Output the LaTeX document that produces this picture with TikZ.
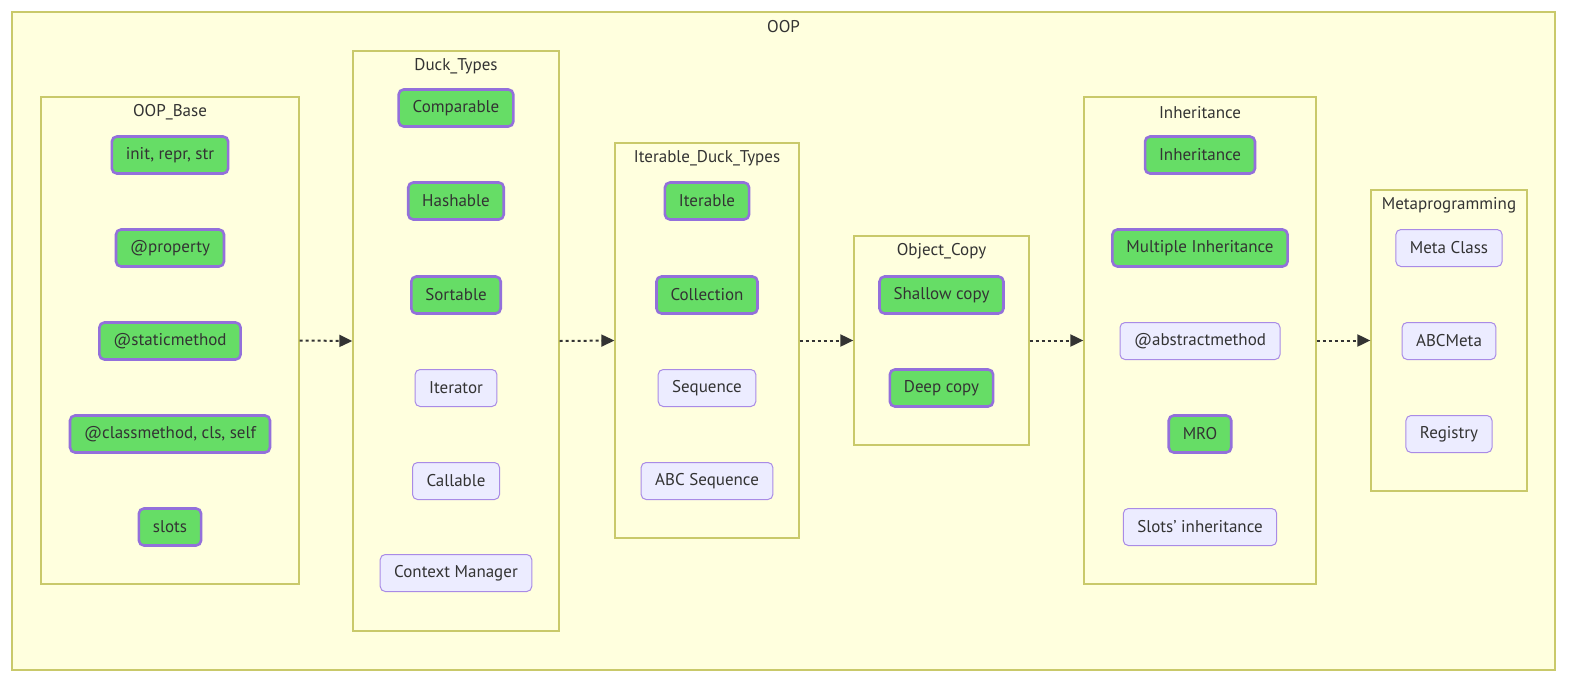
\documentclass[tikz,border=0pt]{standalone}
\usepackage{fontspec}
\setsansfont{PT Sans}
\usetikzlibrary{arrows.meta}

\definecolor{clfill}{HTML}{FFFFDE}
\definecolor{clline}{HTML}{C9C96A}
\definecolor{itfill}{HTML}{ECECFF}
\definecolor{itline}{HTML}{A98BE6}
\definecolor{gofill}{HTML}{66DD66}
\definecolor{goline}{HTML}{9370DB}
\definecolor{txt}{HTML}{333333}

\begin{document}
\begin{tikzpicture}[
        x=1pt, y=-1pt,
        font=\sffamily\fontsize{17}{20}\selectfont,
        text=txt,
        cluster/.style={
            draw=clline,
            fill=clfill,
            line width=1.3pt
        },
        cltitle/.style={inner sep=0pt},
        item/.style={
            draw=itline,
            fill=itfill,
            line width=1pt,
            rounded corners=5pt,
            minimum height=37pt,
            inner xsep=14pt
        },
        done/.style={
            item,
            draw=goline,
            fill=gofill,
            line width=2.6pt
        },
        link/.style={
            draw=txt,
            line width=2pt,
            dash pattern=on 3pt off 3pt,
            -{Triangle[length=13pt,width=12pt,sep=0pt]}
        }
    ]

    \useasboundingbox (0,0) rectangle (1572,683);

    % Moldura externa
    \node[cluster, minimum width=1543, minimum height=658] (oop) at (783.5,341) {};
    \node[cltitle] (ooptitle) at ([yshift=-15pt]oop.north) {OOP};

    % Grupos
    \node[cluster, minimum width=258, minimum height=487] (base) at (170,340.5) {};
    \node[cluster, minimum width=206, minimum height=580] (duck) at (456,341) {};
    \node[cluster, minimum width=184, minimum height=395] (iter) at (707,340.5) {};
    \node[cluster, minimum width=175, minimum height=209] (copy) at (941.5,340.5) {};
    \node[cluster, minimum width=232, minimum height=487] (inher) at (1200,340.5) {};
    \node[cluster, minimum width=156, minimum height=301] (meta) at (1449,340.5) {};

    \node[cltitle] (basetitle) at ([yshift=-16pt]base.north) {OOP\_Base};
    \node[cltitle] (ducktitle) at ([yshift=-16pt]duck.north) {Duck\_Types};
    \node[cltitle] (itertitle) at ([yshift=-16pt]iter.north) {Iterable\_Duck\_Types};
    \node[cltitle] (copytitle) at ([yshift=-16pt]copy.north) {Object\_Copy};
    \node[cltitle] (inhertitle) at ([yshift=-16pt]inher.north) {Inheritance};
    \node[cltitle] (metatitle) at ([yshift=-16pt]meta.north) {Metaprogramming};

    % OOP_Base
    \node[done] (init) at (170,155) {init, repr, str};
    \node[done] (prop) at (170,248) {@property};
    \node[done] (static) at (170,341) {@staticmethod};
    \node[done] (classm) at (170,434) {@classmethod, cls, self};
    \node[done] (slots) at (170,527) {slots};

    % Duck_Types
    \node[done] (compar) at (456,108) {Comparable};
    \node[done] (hashab) at (456,201) {Hashable};
    \node[done] (sortab) at (456,295) {Sortable};
    \node[item] (iterat) at (456,388) {Iterator};
    \node[item] (callab) at (456,481) {Callable};
    \node[item] (ctxman) at (456,573) {Context Manager};

    % Iterable_Duck_Types
    \node[done] (iterab) at (707,201) {Iterable};
    \node[done] (collec) at (707,295) {Collection};
    \node[item] (sequen) at (707,388) {Sequence};
    \node[item] (abcseq) at (707,481) {ABC Sequence};

    % Object_Copy
    \node[done] (shallow) at (941.5,295) {Shallow copy};
    \node[done] (deep) at (941.5,388) {Deep copy};

    % Inheritance
    \node[done] (inh) at (1200,155) {Inheritance};
    \node[done] (multi) at (1200,248) {Multiple Inheritance};
    \node[item] (abstr) at (1200,341) {@abstractmethod};
    \node[done] (mro) at (1200,434) {MRO};
    \node[item] (slotinh) at (1200,527) {Slots' inheritance};

    % Metaprogramming
    \node[item] (metacl) at (1449,248) {Meta Class};
    \node[item] (abcmeta) at (1449,341) {ABCMeta};
    \node[item] (regis) at (1449,434) {Registry};

    % Ligações
    \draw[link] (base.east) -- (duck.west);
    \draw[link] (duck.east) -- (iter.west);
    \draw[link] (iter.east) -- (copy.west);
    \draw[link] (copy.east) -- (inher.west);
    \draw[link] (inher.east) -- (meta.west);

\end{tikzpicture}
\end{document}
